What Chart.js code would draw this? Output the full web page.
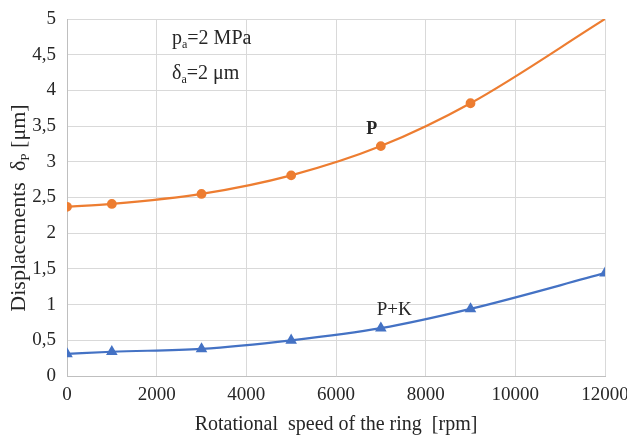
<!DOCTYPE html>
<html>
<head>
<meta charset="utf-8">
<script src="https://cdn.jsdelivr.net/npm/chart.js@4/dist/chart.umd.min.js"></script>
<style>
  html, body { margin: 0; padding: 0; background: #fff; }
  #wrap { width: 627px; height: 438px; position: relative; }
</style>
</head>
<body>
<div id="wrap"><canvas id="c" width="627" height="438"></canvas></div>
<script>
// Rotational speed of the ring [rpm]
const speeds = [0, 1000, 3000, 5000, 7000, 9000, 12000];
// Displacement δP [μm], pressure only (P)
const dispP = [2.37, 2.41, 2.55, 2.81, 3.22, 3.82, 5.0];
// Displacement δP [μm], pressure + centrifugal (P+K)
const dispPK = [0.31, 0.34, 0.38, 0.50, 0.67, 0.94, 1.44];
// Axis tick values
const xTicks = [0, 2000, 4000, 6000, 8000, 10000, 12000];
const yTicks = [0, 0.5, 1, 1.5, 2, 2.5, 3, 3.5, 4, 4.5, 5];

const SERIF = '"Liberation Serif", "Times New Roman", serif';
const TXT = '#262626';

function pts(xs, ys) { return xs.map((x, i) => ({ x: x, y: ys[i] })); }

// draws text with subscript parts: segments [{t, sub}]
function drawRich(ctx, segs, x, y, size, align) {
  let total = 0;
  segs.forEach(s => {
    ctx.font = (s.sub ? size * 0.6 : size) + 'px ' + SERIF;
    total += ctx.measureText(s.t).width;
  });
  let cx = align === 'center' ? x - total / 2 : x;
  ctx.textAlign = 'left';
  ctx.textBaseline = 'alphabetic';
  segs.forEach(s => {
    ctx.font = (s.sub ? size * 0.6 : size) + 'px ' + SERIF;
    ctx.fillText(s.t, cx, s.sub ? y + size * 0.2 : y);
    cx += ctx.measureText(s.t).width;
  });
}

const labelsPlugin = {
  id: 'labelsPlugin',
  afterDraw(chart) {
    const ctx = chart.ctx;
    const xs = chart.scales.x, ys = chart.scales.y;
    ctx.save();
    ctx.fillStyle = TXT;
    // parameter notes
    drawRich(ctx, [{ t: 'p' }, { t: 'a', sub: true }, { t: '=2 MPa' }], 172, 44, 20, 'left');
    drawRich(ctx, [{ t: 'δ' }, { t: 'a', sub: true }, { t: '=2 μm' }], 172, 79, 20, 'left');
    // curve labels
    ctx.textAlign = 'center';
    ctx.textBaseline = 'alphabetic';
    ctx.font = 'bold 18px ' + SERIF;
    ctx.fillText('P', xs.getPixelForValue(6800), ys.getPixelForValue(3.39));
    ctx.font = '19px ' + SERIF;
    ctx.fillText('P+K', xs.getPixelForValue(7300), ys.getPixelForValue(0.86));
    // x axis title
    ctx.font = '20px ' + SERIF;
    ctx.fillText('Rotational  speed of the ring  [rpm]', (xs.left + xs.right) / 2, 430);
    // y axis title
    ctx.translate(25, 208);
    ctx.rotate(-Math.PI / 2);
    drawRich(ctx, [{ t: 'Displacements  δ' }, { t: 'P', sub: true }, { t: ' [μm]' }], 0, 0, 22, 'center');
    ctx.restore();
  }
};

new Chart(document.getElementById('c'), {
  type: 'line',
  data: {
    datasets: [
      {
        label: 'P',
        data: pts(speeds, dispP),
        borderColor: '#ED7D31',
        backgroundColor: '#ED7D31',
        borderWidth: 2.2,
        pointStyle: 'circle',
        pointRadius: speeds.map((s, i) => i === speeds.length - 1 ? 0 : 3.8),
        tension: 0.4,
        cubicInterpolationMode: 'monotone'
      },
      {
        label: 'P+K',
        data: pts(speeds, dispPK),
        borderColor: '#4472C4',
        backgroundColor: '#4472C4',
        borderWidth: 2.2,
        pointStyle: 'triangle',
        pointRadius: 4.5,
        tension: 0.4,
        cubicInterpolationMode: 'monotone'
      }
    ]
  },
  options: {
    responsive: false,
    animation: false,
    layout: { padding: { top: 19, right: 22, left: 0, bottom: 0 } },
    plugins: { legend: { display: false }, tooltip: { enabled: false } },
    scales: {
      x: {
        type: 'linear',
        min: 0, max: 12000,
        afterBuildTicks(scale) { scale.ticks = xTicks.map(v => ({ value: v })); },
        afterFit(scale) { scale.height = 62; scale.paddingLeft = 0; scale.paddingRight = 0; },
        grid: { color: '#d9d9d9', lineWidth: 1, drawTicks: false },
        border: { color: '#bfbfbf' },
        ticks: {
          color: TXT, padding: 8,
          font: { family: SERIF, size: 19 },
          maxRotation: 0,
          callback: v => String(v)
        }
      },
      y: {
        min: 0, max: 5,
        afterBuildTicks(scale) { scale.ticks = yTicks.map(v => ({ value: v })); },
        afterFit(scale) { scale.width = 67; scale.paddingTop = 0; scale.paddingBottom = 0; },
        grid: { color: '#d9d9d9', lineWidth: 1, drawTicks: false },
        border: { color: '#bfbfbf' },
        ticks: {
          color: TXT, padding: 11,
          font: { family: SERIF, size: 19 },
          callback: v => String(v).replace('.', ',')
        }
      }
    }
  },
  plugins: [labelsPlugin]
});
</script>
</body>
</html>
